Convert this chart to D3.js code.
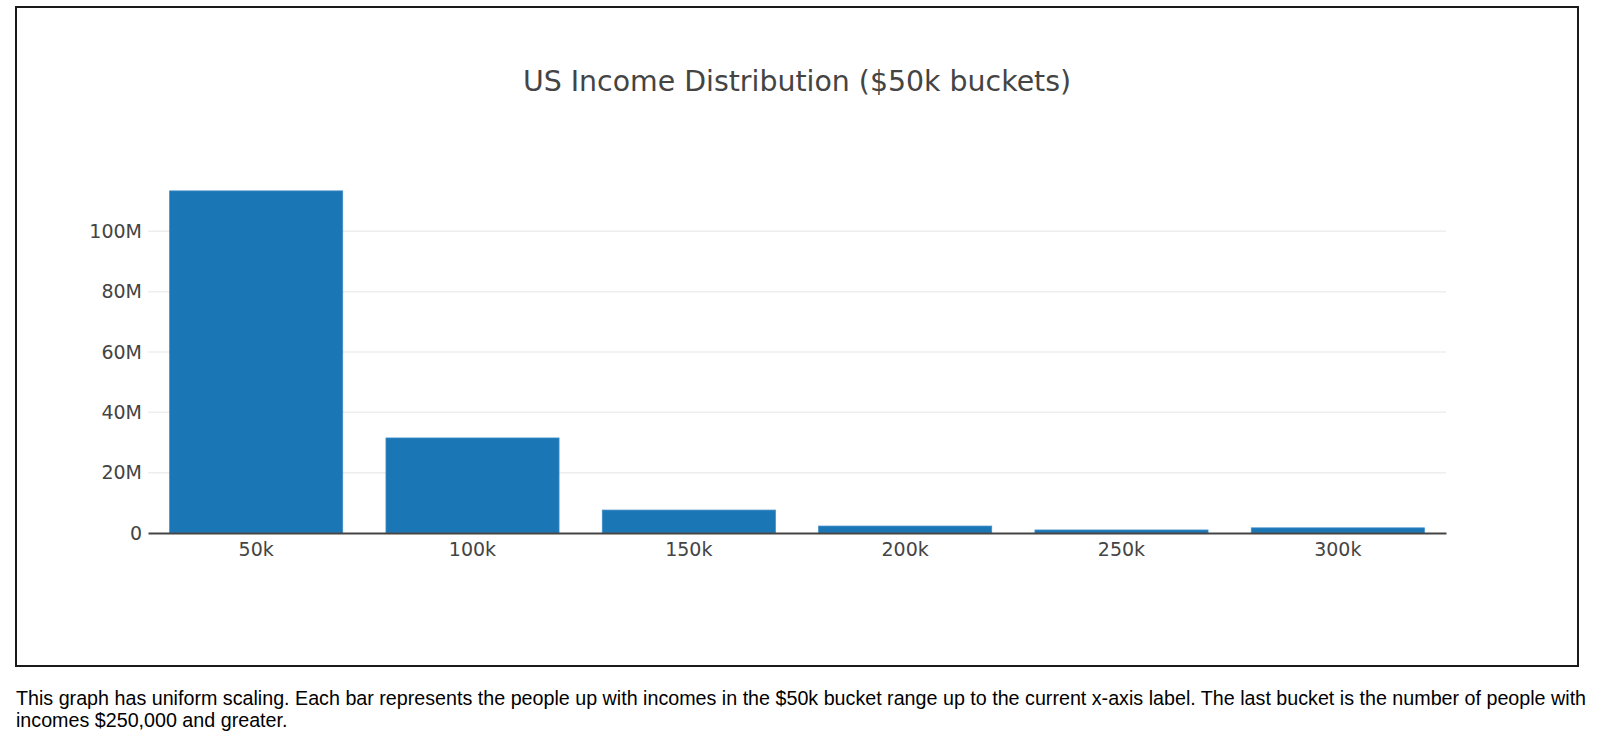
<!DOCTYPE html>
<html>
<head>
<meta charset="utf-8">
<script src="https://cdn.jsdelivr.net/npm/d3@7"></script>
<style>
  body { margin: 0; background: #fff; }
  #note {
    position: absolute;
    left: 16px;
    top: 687px;
    width: 1582px;
    font-family: "Liberation Sans", Arial, sans-serif;
    font-size: 19.7px;
    line-height: 22px;
    color: #000;
  }
</style>
</head>
<body>
<div id="chart"></div>
<div id="note">This graph has uniform scaling. Each bar represents the people up with incomes in the $50k bucket range up to the current x-axis label. The last bucket is the number of people with incomes $250,000 and greater.</div>
<script>
// Data (people, in millions)
const buckets = ["50k", "100k", "150k", "200k", "250k", "300k"];
const people = [113.4, 31.5, 7.6, 2.3, 1.0, 1.7];
const yTicks = [0, 20, 40, 60, 80, 100];
const title = "US Income Distribution ($50k buckets)";

// Setting up the SVG dimensions
const w = 1600;
const h = 680;
const plot = { left: 148, right: 1446, top: 174, bottom: 533 };
const font = "'DejaVu Sans', Verdana, sans-serif";

var svg = d3.select("#chart")
  .append("svg")
  .attr("width", w)
  .attr("height", h)
  .style("position", "absolute")
  .style("left", 0)
  .style("top", 0);

// Outer frame
svg.append("rect")
  .attr("x", 16)
  .attr("y", 7)
  .attr("width", 1562)
  .attr("height", 659)
  .attr("fill", "none")
  .attr("stroke", "#1a1a1a")
  .attr("stroke-width", 2);

// Scales
var x = d3.scaleBand()
  .domain(buckets)
  .range([plot.left, plot.right])
  .paddingInner(0.2)
  .paddingOuter(0.1);

var y = d3.scaleLinear()
  .domain([0, 119])
  .range([plot.bottom, plot.top]);

// Gridlines
svg.append("g")
  .selectAll("line")
  .data(yTicks.filter(d => d > 0))
  .enter()
  .append("line")
  .attr("x1", plot.left)
  .attr("x2", plot.right)
  .attr("y1", d => y(d))
  .attr("y2", d => y(d))
  .attr("stroke", "#eee")
  .attr("stroke-width", 1.5);

// Bars
svg.append("g")
  .selectAll("rect")
  .data(people)
  .enter()
  .append("rect")
  .attr("x", (d, i) => x(buckets[i]))
  .attr("width", x.bandwidth())
  .attr("y", d => y(d))
  .attr("height", d => y(0) - y(d))
  .attr("fill", "#1a76b5")
  .attr("stroke", "#3d8cc6")
  .attr("stroke-width", 0.8);

// Y axis (labels only)
var yAxis = svg.append("g")
  .attr("transform", `translate(${plot.left},0)`)
  .call(d3.axisLeft(y)
    .tickValues(yTicks)
    .tickSize(0)
    .tickPadding(6)
    .tickFormat(d => d === 0 ? "0" : d + "M"));
yAxis.select(".domain").remove();
yAxis.selectAll("text")
  .attr("font-family", font)
  .attr("font-size", 19)
  .attr("fill", "#444");

// X axis
var xAxis = svg.append("g")
  .attr("transform", `translate(0,${plot.bottom})`)
  .call(d3.axisBottom(x).tickSize(0).tickPadding(10));
xAxis.select(".domain")
  .attr("stroke", "#444")
  .attr("stroke-width", 2);
xAxis.selectAll("text")
  .attr("font-family", font)
  .attr("font-size", 19)
  .attr("fill", "#444");

// Title
svg.append("text")
  .attr("x", 797)
  .attr("y", 91)
  .attr("text-anchor", "middle")
  .attr("font-family", font)
  .attr("font-size", 28.4)
  .attr("fill", "#444")
  .text(title);
</script>
</body>
</html>
